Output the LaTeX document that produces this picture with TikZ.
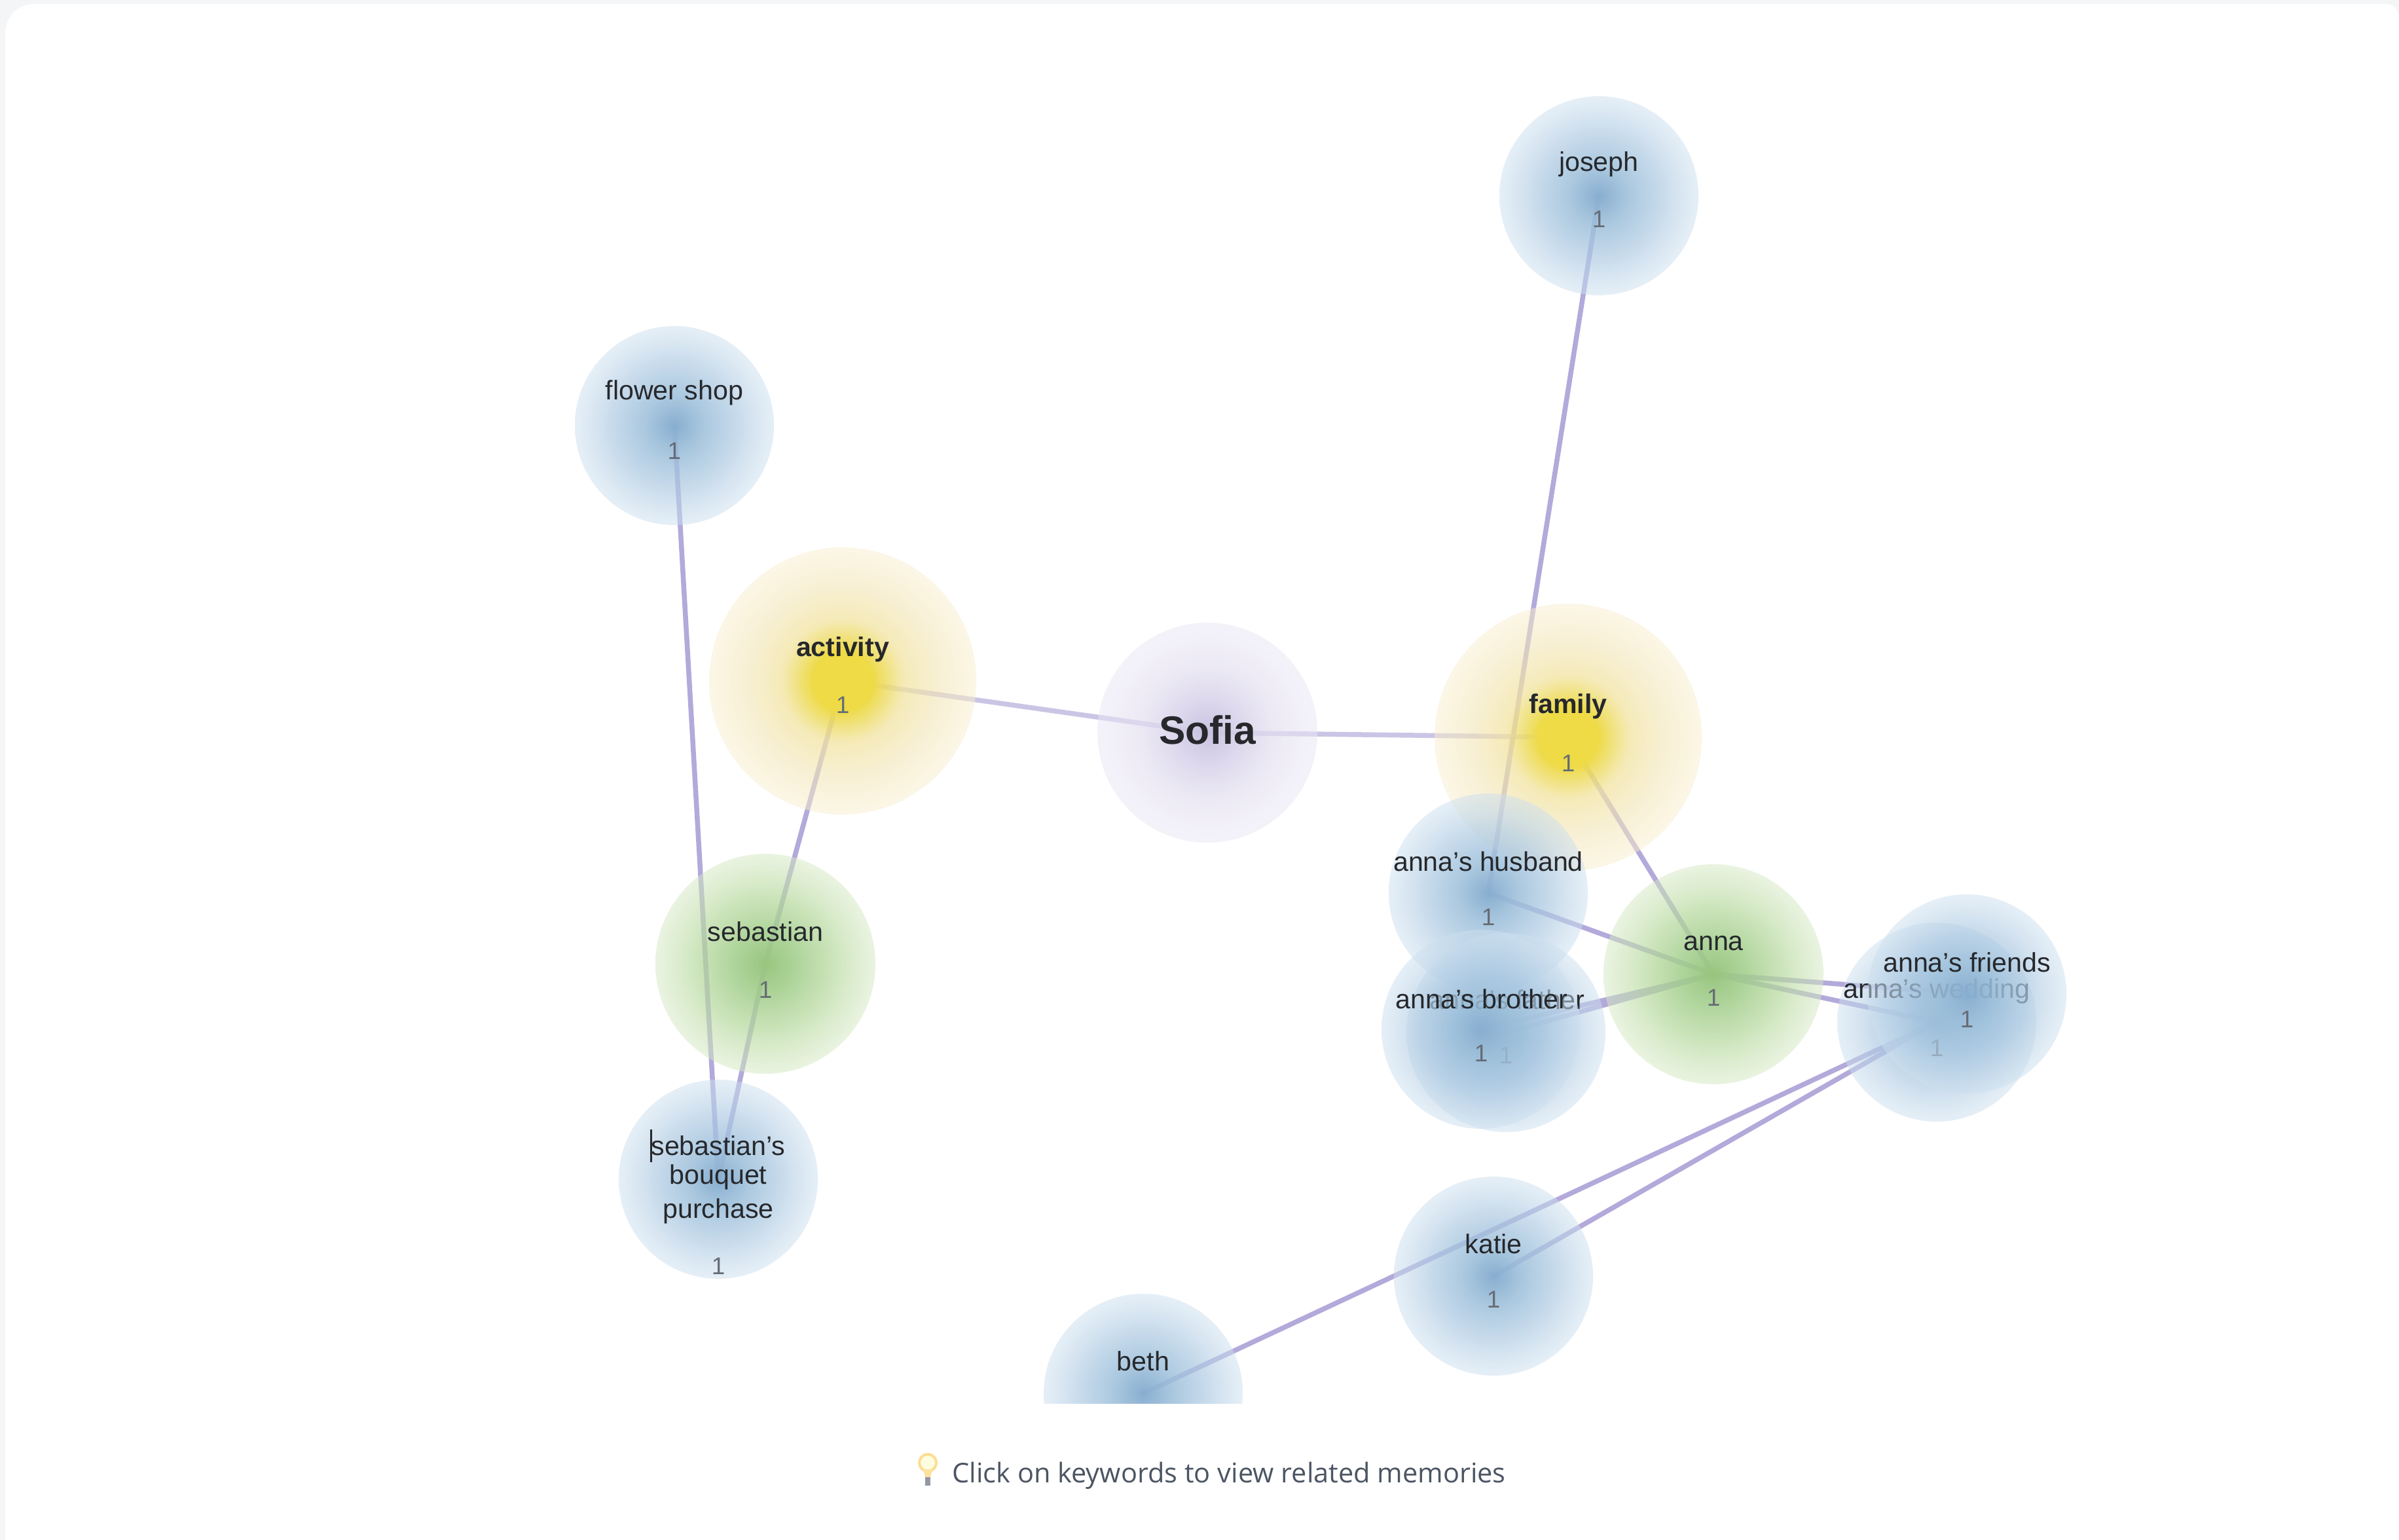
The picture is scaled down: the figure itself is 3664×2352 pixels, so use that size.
\documentclass[tikz,border=0pt]{standalone}
\usepackage{fontspec}
\setmainfont{Liberation Sans}
\newfontfamily\footfont{Open Sans}
\usetikzlibrary{fadings}
\definecolor{pagebg}{HTML}{F4F5F7}
\definecolor{edgec}{HTML}{B3A9DA}
\definecolor{edgepale}{HTML}{CBC5E5}
\definecolor{labelc}{HTML}{26282C}
\definecolor{countc}{HTML}{666C76}
\definecolor{footc}{HTML}{4B5563}
\pgfdeclareradialshading{softshade}{\pgfpointorigin}{%
 color(0bp)=(pgftransparent!0); color(7.5bp)=(pgftransparent!15); color(15bp)=(pgftransparent!30);
 color(25bp)=(pgftransparent!50); color(50bp)=(pgftransparent!50)}
\pgfdeclarefading{softfade}{\pgfuseshading{softshade}}
\pgfdeclareradialshading{sunshade}{\pgfpointorigin}{%
 color(0bp)=(pgftransparent!0); color(5.5bp)=(pgftransparent!0); color(8bp)=(pgftransparent!15);
 color(11.5bp)=(pgftransparent!25); color(17.5bp)=(pgftransparent!40);
 color(25bp)=(pgftransparent!50); color(50bp)=(pgftransparent!50)}
\pgfdeclarefading{sunfade}{\pgfuseshading{sunshade}}
\definecolor{bA}{HTML}{88AED0}\definecolor{bB}{HTML}{9CBFDA}\definecolor{bC}{HTML}{ACC9E2}\definecolor{bD}{HTML}{CDE0EF}
\definecolor{gA}{HTML}{98C57F}\definecolor{gB}{HTML}{A2CE8B}\definecolor{gC}{HTML}{B5D89C}\definecolor{gD}{HTML}{D5E9C3}
\definecolor{pA}{HTML}{C9C2E1}\definecolor{pB}{HTML}{D7D1E9}\definecolor{pC}{HTML}{E4E0F1}\definecolor{pD}{HTML}{EBE7F5}
\definecolor{yA}{HTML}{EEDB45}\definecolor{yB}{HTML}{EEDC60}\definecolor{yC}{HTML}{F2E4A0}\definecolor{yD}{HTML}{F3E5B5}\definecolor{yE}{HTML}{F9EFCE}
\pgfdeclareradialshading{blueglow}{\pgfpointorigin}{color(0bp)=(bA); color(7.5bp)=(bB); color(15bp)=(bC); color(25bp)=(bD); color(50bp)=(bD)}
\pgfdeclareradialshading{greenglow}{\pgfpointorigin}{color(0bp)=(gA); color(7.5bp)=(gB); color(15bp)=(gC); color(25bp)=(gD); color(50bp)=(gD)}
\pgfdeclareradialshading{purpleglow}{\pgfpointorigin}{color(0bp)=(pA); color(7.5bp)=(pB); color(15bp)=(pC); color(25bp)=(pD); color(50bp)=(pD)}
\pgfdeclareradialshading{yellowglow}{\pgfpointorigin}{color(0bp)=(yA); color(5.5bp)=(yA); color(8bp)=(yB); color(11.5bp)=(yC); color(17.5bp)=(yD); color(25bp)=(yE); color(50bp)=(yE)}
\tikzset{x=0.01cm,y=-0.01cm,
 link/.style={draw=edgec,line width=0.075cm},
 palelink/.style={draw=edgepale,line width=0.075cm},
 bluenode/.style={shading=blueglow,path fading=softfade},
 greennode/.style={shading=greenglow,path fading=softfade},
 purplenode/.style={shading=purpleglow,path fading=softfade},
 yellownode/.style={shading=yellowglow,path fading=sunfade},
 lab/.style={text=labelc,font=\fontsize{11.7}{14}\selectfont,inner sep=0,align=center},
 boldlab/.style={text=labelc,font=\fontsize{11.7}{14}\selectfont\bfseries,inner sep=0},
 num/.style={text=countc,font=\fontsize{10.5}{12}\selectfont,inner sep=0}}
\begin{document}
\begin{tikzpicture}
\useasboundingbox (0,0) rectangle (3664,2352);
\fill[pagebg] (0,0) rectangle (3664,2352);
\fill[white] (8,2352) {[rounded corners=0.44cm] -- (8,6)} {[rounded corners=0.2cm] -- (3664,6)} -- (3664,2352) -- cycle;
% centres of the bubbles
\coordinate (sofia) at (1844,1119);
\coordinate (activity) at (1287,1040);
\coordinate (family) at (2395,1126);
\coordinate (joseph) at (2442,299);
\coordinate (flower) at (1030,650);
\coordinate (sebastian) at (1169,1472);
\coordinate (bouquet) at (1097,1801);
\coordinate (husband) at (2273,1364);
\coordinate (anna) at (2617,1488);
\coordinate (brother) at (2262,1572);
\coordinate (father) at (2300,1577);
\coordinate (friends) at (3004,1518);
\coordinate (wedding) at (2958,1561);
\coordinate (katie) at (2281,1949);
\coordinate (beth) at (1746,2128);
% connectors
\draw[palelink] (activity) -- (sofia);
\draw[palelink] (sofia) -- (family);
\draw[link] (activity) -- (sebastian);
\draw[link] (sebastian) -- (bouquet);
\draw[link] (flower) -- (bouquet);
\draw[link] (joseph) -- (husband);
\draw[link] (family) -- (anna);
\draw[link] (husband) -- (anna);
\draw[link] (brother) -- (anna);
\draw[link] (father) -- (anna);
\draw[link] (anna) -- (friends);
\draw[link] (anna) -- (wedding);
\draw[link] (katie) -- (wedding);
\draw[link] (beth) -- (wedding);
% bubbles and their texts, lowest first
\shade[purplenode] (sofia) circle[radius=168];
\node[text=labelc,font=\fontsize{17.2}{20}\selectfont\bfseries,inner sep=0] (lsofia) at (1844,1115) {Sofia};
\shade[yellownode] (activity) circle[radius=204];
\node[boldlab] (lactivity) at (1287,992) {activity};
\node[num] (nactivity) at (1287,1077) {1};
\shade[yellownode] (family) circle[radius=204];
\node[boldlab] (lfamily) at (2395,1079) {family};
\node[num] (nfamily) at (2395,1166) {1};
\shade[bluenode] (joseph) circle[radius=152];
\node[lab] (ljoseph) at (2442,251) {joseph};
\node[num] (njoseph) at (2442,335) {1};
\shade[bluenode] (flower) circle[radius=152];
\node[lab] (lflower) at (1030,600) {flower shop};
\node[num] (nflower) at (1030,689) {1};
\shade[greennode] (sebastian) circle[radius=168];
\node[lab] (lsebastian) at (1169,1423) {sebastian};
\node[num] (nsebastian) at (1169,1512) {1};
\shade[bluenode] (bouquet) circle[radius=152];
\node[lab] (lbouquet1) at (1097,1750) {sebastian's};
\node[lab] (lbouquet2) at (1097,1798) {bouquet};
\node[lab] (lbouquet3) at (1097,1850) {purchase};
\node[num] (nbouquet) at (1097,1934) {1};
\draw[labelc,line width=0.03cm] (994,1725) -- (994,1775);
\shade[bluenode] (husband) circle[radius=152];
\node[lab] (lhusband) at (2273,1316) {anna's husband};
\node[num] (nhusband) at (2273,1401) {1};
\shade[greennode] (anna) circle[radius=168];
\node[lab] (lanna) at (2617,1441) {anna};
\node[num] (nanna) at (2617,1524) {1};
\shade[bluenode] (father) circle[radius=152];
\node[lab] (lfather) at (2302,1527) {anna's father};
\node[num] (nfather) at (2300,1612) {1};
\shade[bluenode] (brother) circle[radius=152];
\node[lab] (lbrother) at (2263,1526) {anna's brother};
\node[num] (nbrother) at (2262,1609) {1};
\shade[bluenode] (wedding) circle[radius=152];
\node[lab] (lwedding) at (2958,1514) {anna's wedding};
\node[num] (nwedding) at (2958,1601) {1};
\shade[bluenode] (friends) circle[radius=152];
\node[lab] (lfriends) at (3004,1470) {anna's friends};
\node[num] (nfriends) at (3004,1557) {1};
\shade[bluenode] (katie) circle[radius=152];
\node[lab] (lkatie) at (2281,1900) {katie};
\node[num] (nkatie) at (2281,1985) {1};
\begin{scope}
\clip (1500,1900) rectangle (2000,2143);
\shade[bluenode] (beth) circle[radius=152];
\node[lab] (lbeth) at (1746,2079) {beth};
\end{scope}
% footer
\filldraw[draw=yellow!40!orange!40!white,fill=yellow!12,line width=0.04cm] (1417,2234) circle[radius=13];
\fill[yellow!40!orange!35!white] (1410,2244) -- (1424,2244) -- (1421,2256) -- (1413,2256) -- cycle;
\fill[footc!60] (1413,2256) rectangle (1421,2269);
\node[text=footc,font=\footfont\fontsize{11.8}{14}\selectfont,inner sep=0,anchor=west] (hint) at (1454,2254) {Click on keywords to view related memories};
\end{tikzpicture}
\end{document}
